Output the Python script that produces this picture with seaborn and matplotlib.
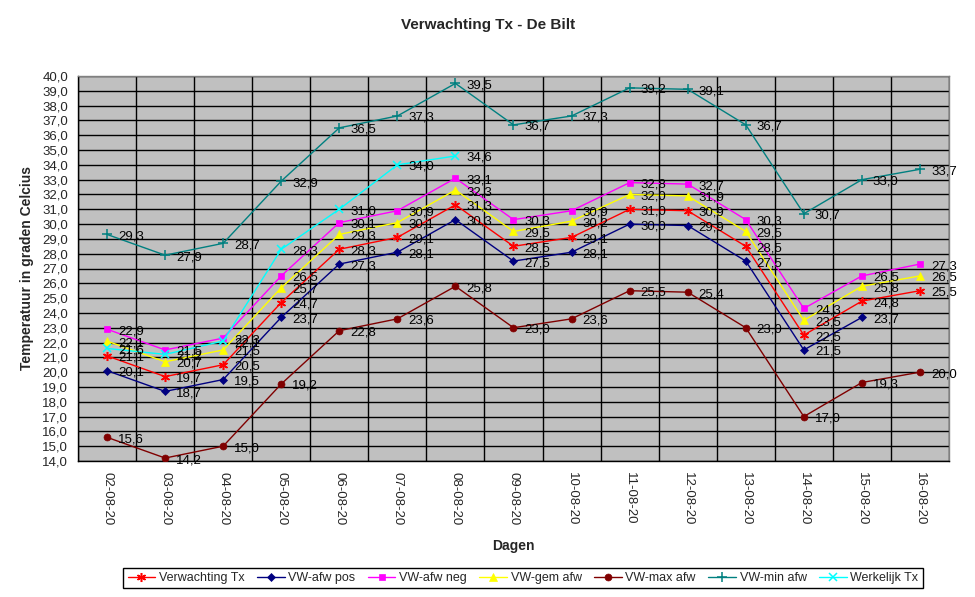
import numpy as np
import pandas as pd
import matplotlib
matplotlib.use("Agg")
import matplotlib.pyplot as plt
import seaborn as sns
from matplotlib.ticker import FixedLocator, FuncFormatter

dates = ["02-08-20", "03-08-20", "04-08-20", "05-08-20", "06-08-20", "07-08-20", "08-08-20",
         "09-08-20", "10-08-20", "11-08-20", "12-08-20", "13-08-20", "14-08-20", "15-08-20", "16-08-20"]

verwachting_tx = [21.1, 19.7, 20.5, 24.7, 28.3, 29.1, 31.3, 28.5, 29.1, 31.0, 30.9, 28.5, 22.5, 24.8, 25.5]
vw_afw_pos = [20.1, 18.7, 19.5, 23.7, 27.3, 28.1, 30.3, 27.5, 28.1, 30.0, 29.9, 27.5, 21.5, 23.7, np.nan]
vw_afw_neg = [22.9, 21.5, 22.3, 26.5, 30.1, 30.9, 33.1, 30.3, 30.9, 32.8, 32.7, 30.3, 24.3, 26.5, 27.3]
vw_gem_afw = [22.1, 20.7, 21.5, 25.7, 29.3, 30.1, 32.3, 29.5, 30.2, 32.0, 31.9, 29.5, 23.5, 25.8, 26.5]
vw_max_afw = [15.6, 14.2, 15.0, 19.2, 22.8, 23.6, 25.8, 23.0, 23.6, 25.5, 25.4, 23.0, 17.0, 19.3, 20.0]
vw_min_afw = [29.3, 27.9, 28.7, 32.9, 36.5, 37.3, 39.5, 36.7, 37.3, 39.2, 39.1, 36.7, 30.7, 33.0, 33.7]
werkelijk_tx = [21.6, 21.2, 22.1, 28.3, 31.0, 34.0, 34.6] + [np.nan] * 8

series_names = ["Verwachting Tx", "VW-afw pos", "VW-afw neg", "VW-gem afw",
                "VW-max afw", "VW-min afw", "Werkelijk Tx"]
series_values = [verwachting_tx, vw_afw_pos, vw_afw_neg, vw_gem_afw,
                 vw_max_afw, vw_min_afw, werkelijk_tx]
colors = ["#FF0000", "#000080", "#FF00FF", "#FFFF00", "#800000", "#008080", "#00FFFF"]
markers = [(6, 2, 0), "D", "s", "^", "o", "+", "x"]
msizes = [6.5, 4, 5, 5.5, 5, 7, 6]

sns.set_style("white")
plt.rcParams["font.family"] = ["Liberation Sans", "DejaVu Sans"]

fig = plt.figure(figsize=(9.75, 5.97), dpi=100)
ax = fig.add_axes([78 / 975, 1 - 461 / 597, (949 - 78) / 975, (461 - 76) / 597])
ax.set_facecolor("#C0C0C0")

x = np.arange(len(dates))
for name, vals, c, m, ms in zip(series_names, series_values, colors, markers, msizes):
    df = pd.DataFrame({"x": x, "y": vals}).dropna()
    sns.lineplot(data=df, x="x", y="y", ax=ax, color=c, marker=m, markersize=ms,
                 markeredgecolor=c, markerfacecolor=c, linewidth=1.0, label=name,
                 markeredgewidth=1.1 if m in ["+", "x", (6, 2, 0)] else 0.5, zorder=3)
    for xi, yi in zip(df["x"], df["y"]):
        ax.annotate(f"{yi:.1f}".replace(".", ","), (xi, yi), xytext=(11, -2),
                    textcoords="offset pixels", ha="left", va="center",
                    fontsize=9.5, color="black", zorder=4)

ax.set_xlim(-0.5, len(dates) - 0.5)
ax.set_ylim(14, 40)
ax.set_yticks(np.arange(14, 40.01, 1.0))
ax.yaxis.set_major_formatter(FuncFormatter(lambda v, p: f"{v:.1f}".replace(".", ",")))
ax.set_xticks(x)
ax.set_xticklabels(dates, rotation=-90, fontsize=9.5)
ax.xaxis.set_minor_locator(FixedLocator(np.arange(-0.5, len(dates), 1.0)))
ax.tick_params(axis="x", which="major", length=0, pad=8)
ax.tick_params(axis="x", which="minor", length=5, width=1, color="black", direction="out")
ax.tick_params(axis="y", which="major", length=5, width=1, color="black", direction="out",
               labelsize=9.5, pad=2)
ax.grid(False)
ax.yaxis.grid(True, which="major", color="black", linewidth=1)
ax.xaxis.grid(True, which="minor", color="black", linewidth=1)
ax.set_axisbelow(True)
for s in ["left", "bottom"]:
    ax.spines[s].set_color("black")
    ax.spines[s].set_linewidth(1)
for s in ["top", "right"]:
    ax.spines[s].set_color("#808080")
    ax.spines[s].set_linewidth(1)

ax.set_xlabel("Dagen", fontsize=10, fontweight="bold", labelpad=10)
ax.set_ylabel("Temperatuur in graden Celcius", fontsize=10, fontweight="bold", labelpad=6)
fig.text(488 / 975, 1 - 25 / 597, "Verwachting Tx - De Bilt", ha="center", va="center",
         fontsize=11, fontweight="bold")

h, l = ax.get_legend_handles_labels()
ax.get_legend().remove()
leg = fig.legend(h, l, loc="center", bbox_to_anchor=(523 / 975, 1 - 578 / 597), ncol=7,
                 frameon=True, fancybox=False, edgecolor="black", framealpha=1,
                 fontsize=9, handlelength=2.2, columnspacing=1.0, handletextpad=0.3,
                 borderpad=0.35)
leg.get_frame().set_linewidth(1)

fig.savefig("out.png", dpi=100)
